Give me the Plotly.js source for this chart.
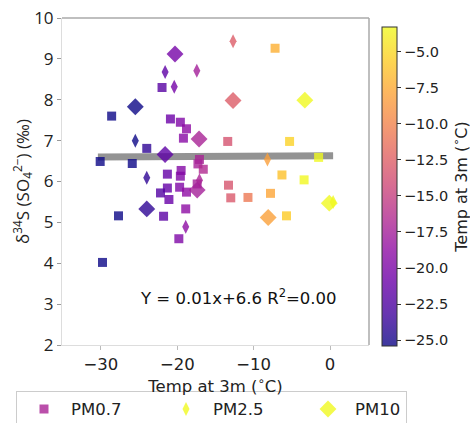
<!DOCTYPE html>
<html>
<head>
<meta charset="utf-8">
<script src="https://cdn.plot.ly/plotly-3.0.1.min.js"></script>
<style>html,body{margin:0;padding:0;background:#fff;}#chart{width:470px;height:423px;}</style>
</head>
<body>
<div id="chart"></div>
<script>
// PM0.7 (squares): temperature (x) and delta34S (y)
const pm07Temp = [-17.1, -17.3, -16.6, -22.0, -28.6, -20.9, -19.6, -18.8, -19.2, -24.0, -30.1, -25.9, -21.3, -19.6, -19.5, -17.4, -21.3, -19.7, -22.2, -18.8, -21.1, -27.7, -21.8, -18.9, -19.8, -29.8, -13.4, -13.3, -13.0, -10.75, -7.2, -5.3, -1.5, -6.3, -3.4, -7.8, -5.7];
const pm07D34S = [6.54, 6.43, 6.30, 8.30, 7.60, 7.53, 7.45, 7.29, 7.06, 6.81, 6.49, 6.44, 6.18, 6.13, 6.27, 5.94, 5.84, 5.86, 5.72, 5.74, 5.56, 5.16, 5.15, 5.33, 4.60, 4.02, 6.98, 5.91, 5.60, 5.61, 9.26, 6.98, 6.59, 6.16, 6.04, 5.71, 5.16];
// PM2.5 (thin diamonds)
const pm25Temp = [0.4, -21.6, -17.45, -20.4, -25.5, -24.0, -17.1, -18.9, -12.7, -8.2];
const pm25D34S = [5.50, 8.68, 8.71, 8.32, 7.00, 6.09, 6.03, 4.89, 9.43, 6.54];
// PM10 (diamonds)
const pm10Temp = [-3.3, -20.3, -25.5, -17.15, -21.6, -17.4, -24.0, -12.7, -8.1, -0.1];
const pm10D34S = [7.99, 9.12, 7.83, 7.04, 6.66, 5.79, 5.33, 7.98, 5.12, 5.47];
// regression line endpoints
const fitTemp = [-30.4, 0.4];
const fitD34S = [6.60, 6.63];
const fitLabel = 'Y = 0.01x+6.6 R<sup>2</sup>=0.00';
const seriesNames = ['PM0.7', 'PM2.5', 'PM10'];
const cbTicks = [-25, -22.5, -20, -17.5, -15, -12.5, -10, -7.5, -5];
const xTicks = [-30, -20, -10, 0];
const yTicks = [2, 3, 4, 5, 6, 7, 8, 9, 10];

const plasma = [
  [0.0, [13, 8, 135]], [0.1, [65, 4, 157]], [0.2, [106, 0, 168]], [0.3, [143, 13, 164]],
  [0.4, [177, 42, 144]], [0.5, [204, 71, 120]], [0.6, [225, 100, 98]], [0.7, [242, 132, 75]],
  [0.8, [252, 166, 54]], [0.9, [252, 206, 37]], [1.0, [240, 249, 33]]
];
const alpha = 0.8;
const cscale = plasma.map(s => [s[0], 'rgba(' + s[1].join(',') + ',' + alpha + ')']);
const cmin = -25.4, cmax = -3.3;

const F = 'DejaVu Sans, sans-serif';
const FY = 'Open Sans, sans-serif';

const colorbar = {x: 1.0423, xanchor: 'left', xpad: 0, ypad: 0, y: 0.4847, yanchor: 'middle',
  lenmode: 'pixels', len: 319, thickness: 15, outlinewidth: 1, outlinecolor: '#333',
  tickvals: cbTicks, tickformat: '.1f', ticks: 'outside', ticklen: 4, tickcolor: '#333',
  tickfont: {family: F, size: 14.5, color: '#222'},
  title: {text: 'Temp at 3m (<sup>∘</sup>C)', side: 'right', font: {family: F, size: 16, color: '#222'}}};

function mk(symbol, size, temps, scale) {
  const m = {symbol: symbol, size: size, color: temps, colorscale: cscale, cmin: cmin, cmax: cmax,
    line: {width: 0}, showscale: !!scale};
  if (scale) m.colorbar = colorbar;
  return m;
}

const traces = [
  {x: fitTemp, y: fitD34S, mode: 'lines', line: {color: 'rgba(120,120,120,0.8)', width: 7}, showlegend: false, hoverinfo: 'skip'},
  {x: pm07Temp, y: pm07D34S, mode: 'markers', name: seriesNames[0], legendwidth: 83,
   marker: mk('square', 9, pm07Temp, true)},
  {x: pm25Temp, y: pm25D34S, mode: 'markers', name: seriesNames[1], legendwidth: 83,
   marker: mk('diamond-tall', 10, pm25Temp, false)},
  {x: pm10Temp, y: pm10D34S, mode: 'markers', name: seriesNames[2], legendwidth: 46,
   marker: mk('diamond', 13, pm10Temp, false)}
];

const layout = {
  width: 470, height: 423,
  margin: {l: 62, r: 101, t: 18, b: 78, autoexpand: false},
  paper_bgcolor: '#fff', plot_bgcolor: '#fff',
  font: {family: F, size: 16, color: '#222'},
  xaxis: {range: [-35.1, 5.1], tickvals: xTicks, ticks: 'outside', ticklen: 4, tickcolor: '#bbb',
    showgrid: false, zeroline: false, showline: true, linecolor: '#ddd', linewidth: 1,
    tickfont: {family: F, size: 16.5, color: '#222'},
    title: {text: 'Temp at 3m (<sup>∘</sup>C)', font: {family: F, size: 16.5, color: '#222'}, standoff: 2}},
  yaxis: {range: [2, 10], tickvals: yTicks, ticks: 'outside', ticklen: 4, tickcolor: '#999',
    showgrid: false, zeroline: false, showline: true, linecolor: '#ddd', linewidth: 1,
    tickfont: {family: FY, size: 17, color: '#222'},
    title: {text: 'δ<sup>34</sup>S (SO<sub>4</sub><sup>2−</sup>) (‰)', font: {family: FY, size: 17, color: '#222'}, standoff: 0}},
  legend: {orientation: 'h', x: 1.1238, xanchor: 'right', y: -0.14, yanchor: 'top',
    bordercolor: '#ccc', borderwidth: 1, font: {family: F, size: 16.5, color: '#222'},
    entrywidthmode: 'pixels', itemwidth: 44},
  shapes: [
    {type: 'line', xref: 'paper', yref: 'paper', x0: 0, x1: 1, y0: 1, y1: 1, line: {color: '#aaa', width: 1.5}},
    {type: 'line', xref: 'paper', yref: 'paper', x0: 1, x1: 1, y0: 0, y1: 1, line: {color: '#aaa', width: 1.5}}
  ],
  annotations: [
    {text: fitLabel, xref: 'paper', yref: 'paper', x: 0.575, y: 0.147, xanchor: 'center', yanchor: 'middle',
     showarrow: false, font: {family: F, size: 16.5, color: '#111'}}
  ]
};

Plotly.newPlot('chart', traces, layout, {displayModeBar: false, staticPlot: true});
</script>
</body>
</html>
